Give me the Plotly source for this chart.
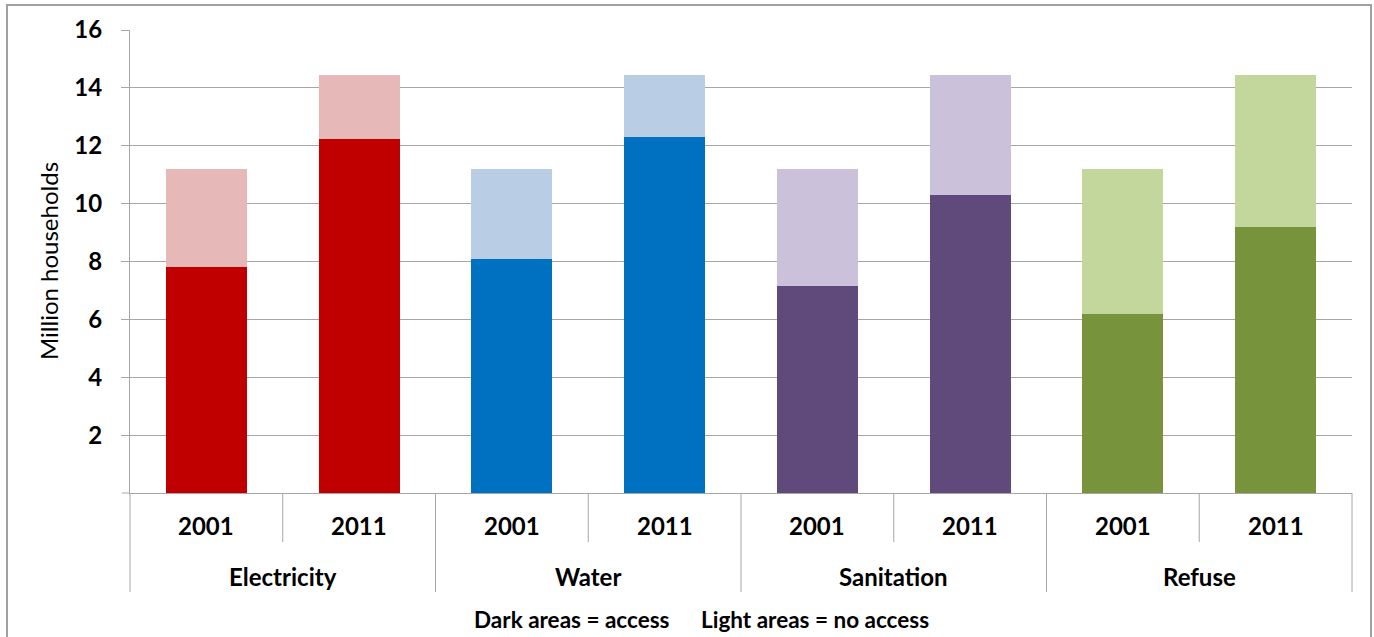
import plotly.graph_objects as go

groups = ["Electricity", "Water", "Sanitation", "Refuse"]
years = ["2001", "2011"]
access = [7.8, 12.25, 8.1, 12.3, 7.15, 10.3, 6.2, 9.2]
total = [11.2, 14.45, 11.2, 14.45, 11.2, 14.45, 11.2, 14.45]
dark_colors = ["#C00000", "#C00000", "#0070C0", "#0070C0", "#604A7B", "#604A7B", "#77933C", "#77933C"]
light_colors = ["#E6B9B8", "#E6B9B8", "#B9CDE5", "#B9CDE5", "#CCC1DA", "#CCC1DA", "#C3D69B", "#C3D69B"]
y_ticks = [2, 4, 6, 8, 10, 12, 14, 16]
footer_left = "Dark areas = access"
footer_right = "Light areas = no access"

no_access = [t - a for t, a in zip(total, access)]
n = len(access)
xpos = [i + 0.5 for i in range(n)]

W, H = 1374, 637
L, R, T, B = 130, 22, 30, 144
pw, ph = W - L - R, H - T - B
FONT = "Lato"
LAB = 24

def px(xp):
    return (xp - L) / pw

def py(yp):
    return (H - B - yp) / ph

fig = go.Figure()
fig.add_bar(x=xpos, y=access, width=0.53, marker=dict(color=dark_colors, line=dict(width=0)),
            hoverinfo="skip", showlegend=False)
fig.add_bar(x=xpos, y=no_access, width=0.53, marker=dict(color=light_colors, line=dict(width=0)),
            hoverinfo="skip", showlegend=False)

shapes = []
annotations = []
gray = "#A6A6A6"
for i in range(n + 1):
    is_group = (i % 2 == 0)
    y_end = 592 if is_group else 542
    shapes.append(dict(type="line", xref="paper", yref="paper", x0=i / n, x1=i / n,
                       y0=0, y1=py(y_end), line=dict(color=gray, width=1)))
for i in range(n):
    annotations.append(dict(xref="paper", yref="paper", x=(i + 0.5) / n, y=py(525),
                            text="<b>%s</b>" % years[i % 2], showarrow=False,
                            font=dict(family=FONT, size=LAB, color="#000000"),
                            xanchor="center", yanchor="middle"))
for g, name in enumerate(groups):
    annotations.append(dict(xref="paper", yref="paper", x=(2 * g + 1) / n, y=py(576),
                            text="<b>%s</b>" % name, showarrow=False,
                            font=dict(family=FONT, size=LAB, color="#000000"),
                            xanchor="center", yanchor="middle"))
annotations.append(dict(xref="paper", yref="paper", x=px(672), y=py(619),
                        text="<b>%s</b>" % footer_left, showarrow=False,
                        font=dict(family=FONT, size=22.5, color="#000000"),
                        xanchor="right", yanchor="middle"))
annotations.append(dict(xref="paper", yref="paper", x=px(699), y=py(619),
                        text="<b>%s</b>" % footer_right, showarrow=False,
                        font=dict(family=FONT, size=22.5, color="#000000"),
                        xanchor="left", yanchor="middle"))
annotations.append(dict(xref="paper", yref="paper", x=px(48), y=py(261),
                        text="Million households", textangle=-90, showarrow=False,
                        font=dict(family=FONT, size=24, color="#000000"),
                        xanchor="center", yanchor="middle"))
shapes.append(dict(type="rect", xref="paper", yref="paper", x0=px(7), x1=px(1371),
                   y0=py(660), y1=py(5), line=dict(color="#A0A0A0", width=2), layer="below"))
shapes.append(dict(type="line", xref="paper", yref="paper", x0=px(122), x1=px(130),
                   y0=0, y1=0, line=dict(color=gray, width=1)))

fig.update_layout(
    width=W, height=H,
    margin=dict(l=L, r=R, t=T, b=B),
    barmode="stack",
    bargap=0,
    plot_bgcolor="white", paper_bgcolor="white",
    xaxis=dict(range=[0, n], showticklabels=False, showgrid=False, zeroline=False,
               showline=True, linecolor=gray, linewidth=1, fixedrange=True),
    yaxis=dict(range=[0, 16], tickvals=y_ticks, ticktext=["<b>%d</b>" % v for v in y_ticks],
               showgrid=True, gridcolor=gray, gridwidth=1, zeroline=False,
               showline=True, linecolor=gray, linewidth=1,
               ticks="outside", ticklen=8, tickcolor=gray, ticklabelstandoff=14,
               tickfont=dict(family=FONT, size=LAB, color="#000000"), fixedrange=True),
    shapes=shapes,
    annotations=annotations,
    font=dict(family=FONT),
)
fig.write_html("out.html")
